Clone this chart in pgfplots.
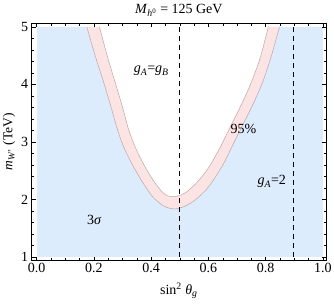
\documentclass[border=0pt]{standalone}
\usepackage{fontspec}
\setmainfont{Liberation Serif}
\usepackage{pgfplots}
\pgfplotsset{compat=1.18}
\definecolor{bluefill}{RGB}{220,236,252}
\definecolor{pinkfill}{RGB}{253,228,228}
\definecolor{edgec}{RGB}{190,165,165}
\newcommand{\fs}{\fontsize{14}{16}\selectfont}
\begin{document}
\begin{tikzpicture}
\begin{axis}[
  width=294.3pt, height=237.4pt, scale only axis,
  xmin=-0.0175, xmax=1.0105, ymin=0.94, ymax=5.06,
  xtick={0,0.2,0.4,0.6,0.8,1.0},
  ytick={1,2,3,4,5},
  minor x tick num=3, minor y tick num=4,
  xticklabel style={/pgf/number format/fixed, /pgf/number format/fixed zerofill, /pgf/number format/precision=1},
  /pgf/number format/assume math mode=true,
  tick label style={font=\fs},
  xticklabel style={yshift=1pt},
  label style={font=\fs},
  xlabel style={yshift=-3pt},
  ylabel style={font=\fontsize{13.5}{15}\selectfont, yshift=-1pt},
  title style={font=\fs, yshift=-3pt},
  major tick length=4pt, minor tick length=2.5pt,
  tick style={black, line width=0.5pt},
  axis line style={black, line width=0.6pt},
  axis on top,
  title={\textit{M}\textsubscript{\textit{h}\textsuperscript{0}} = 125 GeV},
  xlabel={sin\textsuperscript{2} \textit{θ}\textsubscript{\textit{g}}},
  ylabel={\textit{m}\textsubscript{\textit{W}'} (TeV)},
]
\addplot[fill=bluefill, draw=none] coordinates {(0,1)(1,1)(1,5)(0,5)} -- cycle;
\addplot[fill=pinkfill, draw=none, smooth] coordinates {
(0.175,5.0)(0.204,4.5)(0.233,4.05)(0.26,3.6)(0.283,3.2)(0.305,2.9)(0.335,2.6)(0.37,2.3)(0.405,2.05)(0.44,1.9)(0.465,1.85)(0.485,1.84)(0.51,1.87)(0.55,1.98)(0.6,2.22)(0.65,2.6)(0.685,2.95)(0.72,3.3)(0.755,3.65)(0.79,4.05)(0.82,4.5)(0.848,5.0)} -- cycle;
\addplot[fill=white, draw=none, smooth] coordinates {
(0.219,5.0)(0.246,4.5)(0.273,4.05)(0.30,3.6)(0.322,3.2)(0.345,2.9)(0.375,2.6)(0.405,2.35)(0.435,2.15)(0.455,2.07)(0.47,2.05)(0.49,2.06)(0.52,2.12)(0.56,2.3)(0.60,2.55)(0.64,2.9)(0.675,3.25)(0.71,3.6)(0.745,3.98)(0.78,4.45)(0.809,5.0)} -- cycle;
\addplot[draw=edgec, line width=0.5pt, smooth] coordinates {
(0.175,5.0)(0.204,4.5)(0.233,4.05)(0.26,3.6)(0.283,3.2)(0.305,2.9)(0.335,2.6)(0.37,2.3)(0.405,2.05)(0.44,1.9)(0.465,1.85)(0.485,1.84)(0.51,1.87)(0.55,1.98)(0.6,2.22)(0.65,2.6)(0.685,2.95)(0.72,3.3)(0.755,3.65)(0.79,4.05)(0.82,4.5)(0.848,5.0)};
\addplot[draw=edgec, line width=0.5pt, smooth] coordinates {
(0.219,5.0)(0.246,4.5)(0.273,4.05)(0.30,3.6)(0.322,3.2)(0.345,2.9)(0.375,2.6)(0.405,2.35)(0.435,2.15)(0.455,2.07)(0.47,2.05)(0.49,2.06)(0.52,2.12)(0.56,2.3)(0.60,2.55)(0.64,2.9)(0.675,3.25)(0.71,3.6)(0.745,3.98)(0.78,4.45)(0.809,5.0)};
\addplot[black, line width=0.8pt, dash pattern=on 5.5pt off 3.5pt] coordinates {(0.5,1)(0.5,5)};
\addplot[black, line width=0.8pt, dash pattern=on 5.5pt off 3.5pt] coordinates {(0.895,1)(0.895,5)};
\node[font=\fs] at (axis cs:0.40,4.23) {\textit{g}\textsubscript{\textit{A}}=\textit{g}\textsubscript{\textit{B}}};
\node[font=\fs] at (axis cs:0.722,3.22) {95\%};
\node[font=\fs] at (axis cs:0.821,2.31) {\textit{g}\textsubscript{\textit{A}}=2};
\node[font=\fs] at (axis cs:0.201,1.64) {3\textit{σ}};
\end{axis}
\pgfresetboundingbox
\useasboundingbox (-31.7pt,-45.3pt) rectangle (302.3pt,260.7pt);
\end{tikzpicture}
\end{document}
